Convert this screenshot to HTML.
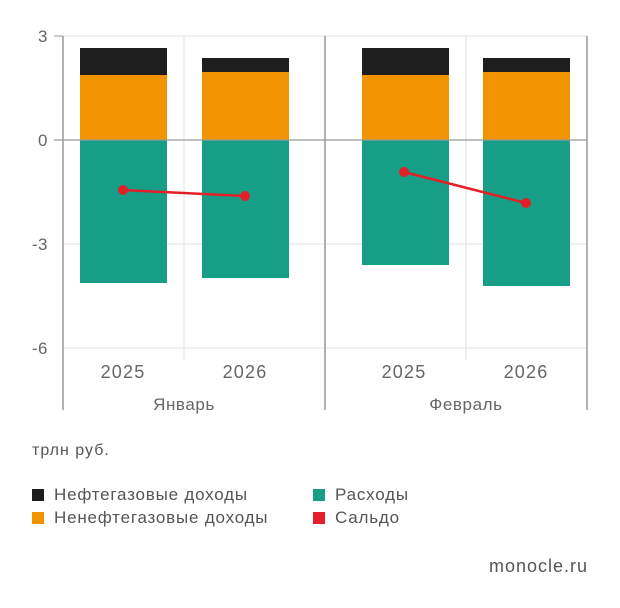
<!DOCTYPE html>
<html><head><meta charset="utf-8"><style>
body{margin:0;background:#fff;width:620px;height:603px;overflow:hidden;font-family:"Liberation Sans",sans-serif;}
</style></head><body>
<svg width="620" height="603" viewBox="0 0 620 603" xmlns="http://www.w3.org/2000/svg" font-family="Liberation Sans, sans-serif">
<g stroke="#e2e2e2" stroke-width="1">
<line x1="63" y1="36" x2="587" y2="36"/>
<line x1="63" y1="244" x2="587" y2="244"/>
<line x1="63" y1="348" x2="587" y2="348"/>
<line x1="184" y1="36" x2="184" y2="360"/>
<line x1="466" y1="36" x2="466" y2="360"/>
</g>
<rect x="80" y="48" width="87" height="27" fill="#1e1e1e"/>
<rect x="80" y="75" width="87" height="65" fill="#f29400"/>
<rect x="80" y="140" width="87" height="143" fill="#179e86"/>
<rect x="202" y="58" width="87" height="14" fill="#1e1e1e"/>
<rect x="202" y="72" width="87" height="68" fill="#f29400"/>
<rect x="202" y="140" width="87" height="138" fill="#179e86"/>
<rect x="362" y="48" width="87" height="27" fill="#1e1e1e"/>
<rect x="362" y="75" width="87" height="65" fill="#f29400"/>
<rect x="362" y="140" width="87" height="125" fill="#179e86"/>
<rect x="483" y="58" width="87" height="14" fill="#1e1e1e"/>
<rect x="483" y="72" width="87" height="68" fill="#f29400"/>
<rect x="483" y="140" width="87" height="146" fill="#179e86"/>
<line x1="54" y1="140" x2="587" y2="140" stroke="#999" stroke-width="1.2"/>
<line x1="54" y1="36" x2="63" y2="36" stroke="#999"/>
<g stroke="#999" stroke-width="1.5">
<line x1="63" y1="36" x2="63" y2="410"/>
<line x1="325" y1="36" x2="325" y2="410"/>
<line x1="587" y1="36" x2="587" y2="410"/>
</g>
<g stroke="#e3202a" stroke-width="2.5"><line x1="123" y1="190" x2="245" y2="196"/><line x1="404" y1="172" x2="526" y2="203"/></g>
<g fill="#e3202a"><circle cx="123" cy="190" r="5"/><circle cx="245" cy="196" r="5"/><circle cx="404" cy="172" r="5"/><circle cx="526" cy="203" r="5"/></g>
<g fill="#666" font-size="17" text-anchor="end" letter-spacing="0.5">
<text x="48" y="42">3</text><text x="48" y="146">0</text><text x="48" y="250">-3</text><text x="48" y="354">-6</text>
</g>
<g fill="#666" font-size="18" text-anchor="middle" letter-spacing="1.2">
<text x="123" y="378">2025</text><text x="245" y="378">2026</text>
<text x="404" y="378">2025</text><text x="526" y="378">2026</text>
</g>
<g fill="#666" font-size="17" text-anchor="middle" letter-spacing="0.6">
<text x="184" y="410">Январь</text><text x="466" y="410">Февраль</text>
</g>
<text x="32" y="455" font-size="16" fill="#555" letter-spacing="1">трлн руб.</text>
<rect x="32" y="489" width="12" height="12" fill="#1e1e1e"/>
<text x="54" y="500" font-size="17" fill="#555" letter-spacing="0.8">Нефтегазовые доходы</text>
<rect x="32" y="512" width="12" height="12" fill="#f29400"/>
<text x="54" y="523" font-size="17" fill="#555" letter-spacing="0.8">Ненефтегазовые доходы</text>
<rect x="313" y="489" width="12" height="12" fill="#179e86"/>
<text x="335" y="500" font-size="17" fill="#555" letter-spacing="0.8">Расходы</text>
<rect x="313" y="512" width="12" height="12" fill="#e3202a"/>
<text x="335" y="523" font-size="17" fill="#555" letter-spacing="0.8">Сальдо</text>
<text x="588" y="572" font-size="18" fill="#555" text-anchor="end" letter-spacing="1">monocle.ru</text>
</svg>
</body></html>
